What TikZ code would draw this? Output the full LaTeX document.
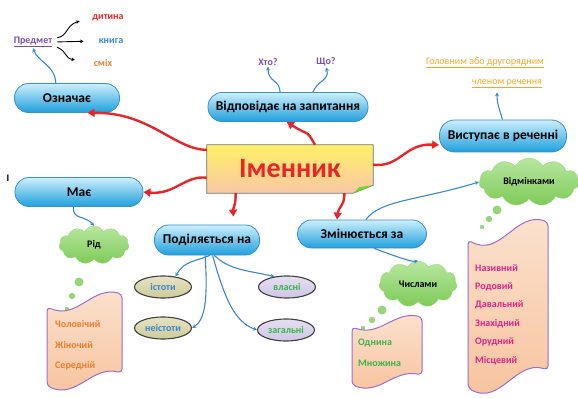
\documentclass[tikz,border=0pt]{standalone}
\usepackage{fontspec}
\setmainfont{Carlito}
\usetikzlibrary{shapes.geometric,shapes.symbols,arrows.meta,calc}
\definecolor{redc}{HTML}{E8262A}
\definecolor{bluec}{HTML}{3A86CF}
\definecolor{boxtop}{HTML}{CDEFFC}
\definecolor{boxbot}{HTML}{1E9FDC}
\definecolor{boxline}{HTML}{3A8FD0}
\definecolor{purp}{HTML}{7A4FB0}
\definecolor{orng}{HTML}{EF7D2A}
\definecolor{gold}{HTML}{F5A623}
\definecolor{grn}{HTML}{3CB44A}
\definecolor{mag}{HTML}{E0248C}
\definecolor{cloudtop}{HTML}{B8E6A0}
\definecolor{cloudbot}{HTML}{7ECB58}
\definecolor{olive}{HTML}{CFCB98}
\definecolor{lav}{HTML}{CFC5E6}
\definecolor{peachtop}{HTML}{FBE2CF}
\definecolor{peachbot}{HTML}{F7C29C}
\definecolor{scrollline}{HTML}{9B6FC8}
\newcommand\scrollpath[5]{%
  \path[scrollsty] (#1,{#2+#5}) .. controls ({#1+0.4*(#3-#1)},{#2+2*#5}) and ({#1+0.6*(#3-#1)},{#2-0.6*#5}) .. (#3,#2)
    -- (#3,{#4-#5}) .. controls ({#1+0.6*(#3-#1)},{#4-1.6*#5}) and ({#1+0.4*(#3-#1)},{#4+1*#5}) .. (#1,#4) -- cycle;}
\begin{document}
\begin{tikzpicture}[x=1pt,y=-1pt,
  bluebox/.style={draw=boxline, line width=0.8pt, top color=boxtop, bottom color=boxbot,
    font=\bfseries\fontsize{13.5}{13.5}\selectfont, inner sep=0pt, rounded corners=14pt, minimum height=29pt},
  redarr/.style={draw=redc, line width=2.4pt, -{Triangle[length=7pt,width=8pt]}},
  bluearr/.style={draw=bluec, line width=1.1pt, -{Stealth[length=4pt,width=4pt]}},
  blackarr/.style={draw=black, line width=0.9pt, -{Stealth[length=3.5pt,width=3.5pt]}},
  small/.style={font=\bfseries\fontsize{10}{10}\selectfont, inner sep=1pt},
  cloudn/.style={cloud, cloud puffs=11, cloud puff arc=120, cloud ignores aspect, top color=cloudtop, bottom color=cloudbot,
    draw=cloudbot!80!white, line width=0.3pt, inner sep=0pt, font=\bfseries\fontsize{10}{10}\selectfont},
  ellip/.style={ellipse, draw=black!75, line width=1.1pt, minimum width=57pt, minimum height=22pt, inner sep=0pt,
    font=\bfseries\fontsize{10}{10}\selectfont},
  scrollsty/.style={draw=scrollline, line width=1pt, top color=peachtop, bottom color=peachbot, rounded corners=4pt},
  bubble/.style={fill=cloudbot!80!white}
]
\useasboundingbox (0,0) rectangle (578,398);

% central node
\node[inner sep=0pt, minimum width=166pt, minimum height=48pt] (imen) at (290,169) {};
\path[draw=black!55, line width=0.8pt, top color=yellow!80!orange!60, bottom color=peachbot!90!white]
  (imen.north west) -- (imen.north east) -- ($(imen.south east)+(0,-8)$) -- ($(imen.south east)+(-20,0)$) -- (imen.south west) -- cycle;
\fill[green!60!yellow!80!black!80] ($(imen.south east)+(0,-8)$) -- ($(imen.south east)+(-20,0)$) -- ($(imen.south east)+(-14,-6)$) -- cycle;
\node[font=\bfseries\fontsize{28}{28}\selectfont, text=redc] at (imen) {Іменник};

% blue boxes
\node[bluebox, minimum width=105pt] (oz) at (67,98) {Означає};
\node[bluebox, minimum width=160pt] (vid) at (288,107) {Відповідає на запитання};
\node[bluebox, minimum width=127pt, minimum height=32pt, rounded corners=15pt] (vyst) at (503,136) {Виступає в реченні};
\node[bluebox, minimum width=128pt] (maye) at (79,192) {Має};
\node[bluebox, minimum width=105pt, minimum height=30pt] (pod) at (207,240) {Поділяється на};
\node[bluebox, minimum width=129pt, minimum height=28pt] (zmin) at (362,234) {Змінюється за};

\node[font=\bfseries\fontsize{10}{10}\selectfont, inner sep=0pt] (stray) at (8,178) {І};

% texts top left
\node[small, text=purp] (predmet) at (33,42) {\underline{Предмет}};
\node[small, text=redc] (dyt) at (108,18) {дитина};
\node[small, text=bluec] (knyha) at (111,41) {книга};
\node[small, text=orng] (smikh) at (103,63) {сміх};
\node[small, text=purp] (khto) at (268,62) {Хто?};
\node[small, text=purp] (scho) at (326,62) {Що?};
\node[font=\fontsize{10}{10}\selectfont, text=gold, inner sep=1pt] (hol) at (485,63) {\underline{Головним або другорядним}};
\node[font=\fontsize{10}{10}\selectfont, text=gold, inner sep=1pt] (chl) at (507,84) {\underline{членом речення}};

% clouds
\node[cloudn, minimum width=70pt, minimum height=38pt] (rid) at (94,245) {Рід};
\node[cloudn, minimum width=100pt, minimum height=48pt] (vidm) at (529,182) {Відмінками};
\node[cloudn, minimum width=78pt, minimum height=46pt] (chys) at (418,284) {Числами};
\fill[bubble] (79,282) circle (4.5pt) (72,296) circle (3.2pt) (67,309) circle (2.2pt);
\fill[bubble] (382,310) circle (4.5pt) (372,320) circle (3.2pt) (363,328) circle (2.2pt);
\fill[bubble] (497,210) circle (4.5pt) (489,219) circle (3.2pt) (482,227) circle (2.2pt);

% ellipses
\node[ellip, top color=olive!55!white, bottom color=olive, text=bluec] (ist) at (163,287) {істоти};
\node[ellip, top color=olive!55!white, bottom color=olive, text=bluec] (neist) at (163,328) {неістоти};
\node[ellip, top color=lav!55!white, bottom color=lav, text=grn] (vlas) at (287,287) {власні};
\node[ellip, top color=lav!55!white, bottom color=lav, text=grn] (zah) at (286,330) {загальні};

% scrolls
\scrollpath{47}{294}{122}{386}{13}
\scrollpath{352}{317}{422}{385}{10}
\scrollpath{468}{222}{548}{388}{18}
\node[small, text=orng, anchor=west] (chol) at (54,324) {Чоловічий};
\node[small, text=orng, anchor=west] (zhin) at (54,345) {Жіночий};
\node[small, text=orng, anchor=west] (ser) at (54,366) {Середній};
\node[small, text=grn, anchor=west] (odn) at (357,343) {Однина};
\node[small, text=grn, anchor=west] (mnozh) at (357,363) {Множина};
\node[small, text=mag, anchor=west] (n1) at (474,268) {Називний};
\node[small, text=mag, anchor=west] (n2) at (474,287) {Родовий};
\node[small, text=mag, anchor=west] (n3) at (474,305) {Давальний};
\node[small, text=mag, anchor=west] (n4) at (474,324) {Знахідний};
\node[small, text=mag, anchor=west] (n5) at (474,342) {Орудний};
\node[small, text=mag, anchor=west] (n6) at (474,361) {Місцевий};

% red arrows
\draw[redarr] (imen.167) .. controls (175,150) and (150,112) .. (oz.-36);
\draw[redarr] (imen.44) .. controls (305,128) and (312,138) .. (vid.-95);
\draw[redarr] (imen.3) .. controls (400,168) and (405,143) .. (vyst.188);
\draw[redarr] (imen.186) .. controls (185,175) and (175,195) .. (maye.east);
\draw[redarr, shorten >=8pt] (imen.204) .. controls (236,205) and (233,208) .. (pod.30);
\draw[redarr] (imen.-24) .. controls (345,205) and (338,208) .. (zmin.150);

% blue arrows
\draw[bluearr] (oz.127) .. controls (55,65) and (38,62) .. (predmet.south);
\draw[bluearr] (vid.118) .. controls (280,80) and (268,82) .. (khto.south);
\draw[bluearr] (vid.31) .. controls (318,80) and (330,80) .. (scho.south);
\draw[bluearr] (vyst.92) .. controls (500,110) and (497,105) .. ($(chl.south)+(-10,3)$);
\draw[bluearr] (maye.-110) .. controls (72,220) and (85,215) .. (rid.north);
\draw[bluearr] (pod.-80) .. controls (195,262) and (185,260) .. (ist.40);
\draw[bluearr] (pod.-97) .. controls (208,300) and (205,320) .. (neist.east);
\draw[bluearr] (pod.-65) .. controls (230,270) and (245,270) .. (vlas.140);
\draw[bluearr] (pod.-70) .. controls (225,300) and (235,322) .. (zah.west);
\draw[bluearr] (zmin.75) .. controls (380,200) and (420,200) .. (vidm.west);
\draw[bluearr] (zmin.-50) .. controls (400,258) and (412,262) .. (chys.north);

% small black arrows
\draw[blackarr, shorten <=4pt, shorten >=12pt] (predmet.10) .. controls (68,36) and (66,25) .. (dyt.west);
\draw[blackarr, shorten <=4pt, shorten >=14pt] (predmet.east) -- (knyha.west);
\draw[blackarr, shorten <=4pt, shorten >=18pt] (predmet.-10) .. controls (68,52) and (64,58) .. (smikh.west);
\end{tikzpicture}
\end{document}
